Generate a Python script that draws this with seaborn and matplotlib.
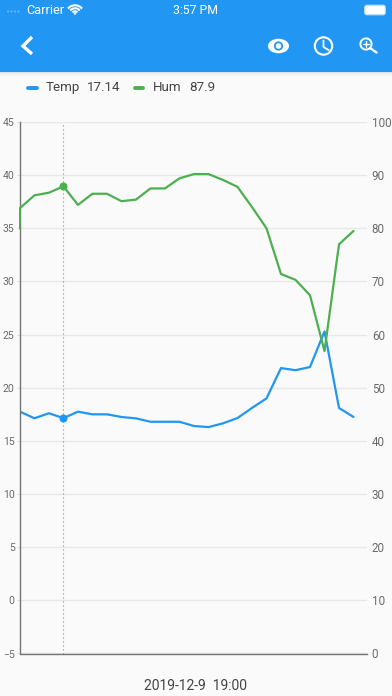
import numpy as np
import matplotlib
matplotlib.use('Agg')
import matplotlib.pyplot as plt
import seaborn as sns
from matplotlib.patches import Rectangle, FancyBboxPatch, Circle, Arc, Ellipse
from matplotlib.lines import Line2D

# readings per hour, the first sample sits right on the axis
sample_idx = [-0.03, 0, 1, 2, 3, 4, 5, 6, 7, 8, 9, 10, 11, 12, 13, 14, 15, 16, 17, 18, 19, 20, 21, 22, 23]
temp = [18.0, 17.75, 17.13, 17.6, 17.14, 17.75, 17.5, 17.5, 17.25, 17.12, 16.8, 16.8, 16.8, 16.4, 16.3,
        16.65, 17.15, 18.1, 19.0, 21.85, 21.65, 21.95, 25.3, 18.1, 17.25]
hum = [80.0, 83.8, 86.2, 86.7, 87.9, 84.4, 86.5, 86.5, 85.1, 85.4, 87.5, 87.5, 89.4, 90.2, 90.2,
       89.1, 87.8, 84.0, 80.0, 71.4, 70.3, 67.4, 56.9, 77.0, 79.5]
selected_idx = 3
selected_temp = 17.14
selected_hum = 87.9
temp_ticks = [-5, 0, 5, 10, 15, 20, 25, 30, 35, 40, 45]
hum_ticks = [0, 10, 20, 30, 40, 50, 60, 70, 80, 90, 100]
selected_label = '2019-12-9  19:00'

W, H = 392, 696
BLUE = '#2196F3'
GREEN = '#4CAF50'
BG = '#FAFAFA'

sns.set_theme(style='white')
plt.rcParams['font.family'] = ['Roboto', 'DejaVu Sans']

fig = plt.figure(figsize=(W / 100, H / 100), dpi=100, facecolor=BG)

# --- chart ---
left, right, top, bottom = 19.5, 367, 122, 653.5
ax = fig.add_axes([left / W, 1 - bottom / H, (right - left) / W, (bottom - top) / H])
ax.set_facecolor('none')
ax2 = ax.twinx()
ax2.set_facecolor('none')

sns.lineplot(x=sample_idx, y=temp, ax=ax, color=BLUE, lw=1.6, estimator=None, sort=False)
sns.lineplot(x=sample_idx, y=hum, ax=ax2, color=GREEN, lw=1.6, estimator=None, sort=False)
ax.axvline(selected_idx, color='#8a8a8a', lw=0.8, ls=(0, (1, 2.6)))
ax.plot([selected_idx], [selected_temp], 'o', color=BLUE, ms=5.8, mew=0, clip_on=False)
ax2.plot([selected_idx], [selected_hum], 'o', color=GREEN, ms=5.8, mew=0, clip_on=False)

ax.set_xlim(-0.03, 23.93)
ax.set_ylim(-5, 45)
ax2.set_ylim(0, 100)
ax.set_xticks([])
ax.set_yticks(temp_ticks)
ax2.set_yticks(hum_ticks)
ax.set_xlabel('')
ax.set_ylabel('')
ax2.set_ylabel('')
ax.grid(True, axis='y', color='#E8E8E8', lw=1.0)
ax2.grid(False)
ax.set_axisbelow(True)
ax.tick_params(axis='y', labelsize=7.6, labelcolor='#6a6a6a', length=2, width=0.8, color='#E0E0E0', pad=1.5)
ax2.tick_params(axis='y', labelsize=8.4, labelcolor='#6a6a6a', length=0, pad=3.5)
for a in (ax, ax2):
    for side in ('top', 'right', 'left', 'bottom'):
        a.spines[side].set_visible(False)
ax.spines['left'].set_visible(True)
ax.spines['bottom'].set_visible(True)
ax.spines['left'].set_color('#757575')
ax.spines['bottom'].set_color('#757575')
ax.spines['left'].set_linewidth(1.0)
ax.spines['bottom'].set_linewidth(1.0)

# --- app chrome, drawn in pixel coordinates ---
ui = fig.add_axes([0, 0, 1, 1], zorder=5)
ui.set_xlim(0, W)
ui.set_ylim(H, 0)
ui.axis('off')
ui.patch.set_alpha(0)

ui.add_patch(Rectangle((0, 0), W, 72, color=BLUE, lw=0))
for i, alpha in enumerate([0.10, 0.06, 0.03, 0.015]):
    ui.add_patch(Rectangle((0, 72 + i), W, 1, color='black', alpha=alpha, lw=0))

# status bar
for x in [8, 11.5, 15, 18.5]:
    ui.add_patch(Circle((x, 11.5), 1.0, color='white', alpha=0.35, lw=0))
ui.text(26, 10, 'Carrier', color='white', fontsize=9.2, va='center', ha='left')
for r in [3.2, 6.2, 9.2]:
    ui.add_patch(Arc((75, 14.5), 2 * r, 2 * r, theta1=220, theta2=320, color='white', lw=1.5))
ui.add_patch(Circle((75, 13.5), 1.2, color='white', lw=0))
ui.text(196, 10, '3:57 PM', color='white', fontsize=8.8, va='center', ha='center')
ui.add_patch(FancyBboxPatch((365.5, 6), 19, 8, boxstyle='round,pad=0.8,rounding_size=2.2', fc='white', ec='#BBDEFB', lw=0.8))

# app bar icons
ui.add_line(Line2D([32, 23, 32], [37, 46, 54], color='white', lw=2.4, solid_capstyle='butt', solid_joinstyle='miter'))
ui.add_patch(Ellipse((278.5, 46), 21, 14.5, color='white', lw=0))
ui.add_patch(Circle((278.5, 46), 4.6, color=BLUE, lw=0))
ui.add_patch(Circle((278.5, 46), 2.8, color='white', lw=0))
ui.add_patch(Circle((323.5, 46), 8.7, fc='none', ec='white', lw=1.5))
ui.add_line(Line2D([323.5, 323.5, 328.5], [40.5, 47, 50], color='white', lw=1.3))
ui.add_patch(Circle((366, 44), 5.6, fc='none', ec='white', lw=1.4))
ui.add_line(Line2D([370, 376.5], [48, 52.5], color='white', lw=1.7))
ui.add_line(Line2D([363.2, 368.8], [44, 44], color='white', lw=1.0))
ui.add_line(Line2D([366, 366], [41.2, 46.8], color='white', lw=1.0))

# legend row with the selected readings
ui.add_line(Line2D([28.5, 37], [87.5, 87.5], color=BLUE, lw=2.8, solid_capstyle='round'))
ui.text(46, 87.5, 'Temp', color='#444444', fontsize=9.6, va='center', ha='left')
ui.text(87, 87.5, f'{selected_temp}', color='#444444', fontsize=9.6, va='center', ha='left')
ui.add_line(Line2D([135, 143.5], [87.5, 87.5], color=GREEN, lw=2.8, solid_capstyle='round'))
ui.text(152.5, 87.5, 'Hum', color='#444444', fontsize=9.6, va='center', ha='left')
ui.text(189.5, 87.5, f'{selected_hum}', color='#444444', fontsize=9.6, va='center', ha='left')

ui.text(195.5, 685.5, selected_label, color='#444444', fontsize=10, va='center', ha='center')

fig.savefig('out.png', dpi=100, facecolor=BG)
